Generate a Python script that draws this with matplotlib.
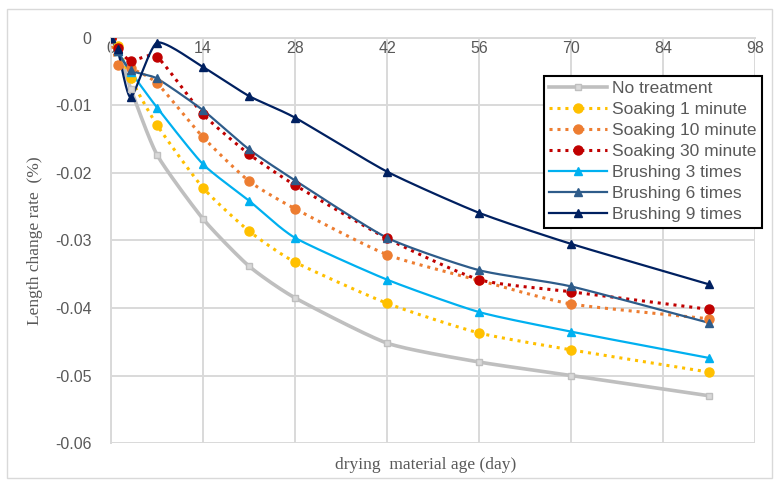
import numpy as np
import matplotlib
matplotlib.use('Agg')
import matplotlib.pyplot as plt
from matplotlib.patches import Rectangle

# drying age (day)
days = [0, 1, 3, 7, 14, 21, 28, 42, 56, 70, 91]

no_treatment = [0, -0.0015, -0.0075, -0.0173, -0.0268, -0.0338, -0.0385, -0.0452, -0.0480, -0.0500, -0.0530]
soak_1 = [0, -0.0012, -0.0060, -0.0129, -0.0222, -0.0286, -0.0332, -0.0393, -0.0437, -0.0462, -0.0495]
soak_10 = [0, -0.0040, -0.0045, -0.0067, -0.0147, -0.0212, -0.0253, -0.0321, -0.0359, -0.0394, -0.0416]
soak_30 = [0, -0.0015, -0.0034, -0.0028, -0.0113, -0.0172, -0.0218, -0.0297, -0.0358, -0.0376, -0.0402]
brush_3 = [0, -0.0020, -0.0050, -0.0103, -0.0187, -0.0241, -0.0296, -0.0358, -0.0406, -0.0435, -0.0474]
brush_6 = [0, -0.0020, -0.0048, -0.0060, -0.0107, -0.0165, -0.0211, -0.0296, -0.0344, -0.0368, -0.0422]
brush_9 = [0, -0.0016, -0.0088, -0.0007, -0.0043, -0.0086, -0.0118, -0.0198, -0.0259, -0.0305, -0.0365]

labels = ['No treatment', 'Soaking 1 minute', 'Soaking 10 minute', 'Soaking 30 minute',
          'Brushing 3 times', 'Brushing 6 times', 'Brushing 9 times']
series = [no_treatment, soak_1, soak_10, soak_30, brush_3, brush_6, brush_9]
colors = ['#BFBFBF', '#FFC000', '#ED7D31', '#C00000', '#00B0F0', '#2E5C8A', '#002060']
markers = ['s', 'o', 'o', 'o', '^', '^', '^']


def smooth(x, y, n=30):
    # excel-like smoothed line (catmull-rom through the points)
    x = np.asarray(x, float)
    y = np.asarray(y, float)
    px = np.concatenate([[2 * x[0] - x[1]], x, [2 * x[-1] - x[-2]]])
    py = np.concatenate([[2 * y[0] - y[1]], y, [2 * y[-1] - y[-2]]])
    xs, ys = [], []
    t = np.linspace(0, 1, n)
    for i in range(1, len(px) - 2):
        p0, p1, p2, p3 = px[i - 1], px[i], px[i + 1], px[i + 2]
        q0, q1, q2, q3 = py[i - 1], py[i], py[i + 1], py[i + 2]
        for a, b, c, d, out in [(p0, p1, p2, p3, xs), (q0, q1, q2, q3, ys)]:
            m1 = (c - a) / 2 * 0.6
            m2 = (d - b) / 2 * 0.6
            out.extend((2 * t**3 - 3 * t**2 + 1) * b + (t**3 - 2 * t**2 + t) * m1
                       + (-2 * t**3 + 3 * t**2) * c + (t**3 - t**2) * m2)
    return xs, ys


fig = plt.figure(figsize=(7.74, 4.82), dpi=100)
fig.patches.append(Rectangle((0.009, 0.008), 0.988, 0.974, transform=fig.transFigure,
                             fill=False, edgecolor='#D9D9D9', lw=1))
ax = fig.add_axes([0.1434, 0.0809, 0.8321, 0.8403])

handles = []
for y, lab, c, m in zip(series, labels, colors, markers):
    xs, ys = smooth(days, y)
    if lab.startswith('Soaking'):
        ls = (0, (1, 1.6))
        lw = 2.2
    elif lab == 'No treatment':
        ls = '-'
        lw = 2.6
    else:
        ls = '-'
        lw = 1.6
    ax.plot(xs, ys, color=c, lw=lw, ls=ls, zorder=3)
    if m == 's':
        ax.plot(days, y, ls='none', marker='s', ms=4.5, mfc='#D9D9D9', mec='#BFBFBF', zorder=4)
        h, = ax.plot([], [], color=c, lw=lw, ls=ls, marker='s', ms=4.5, mfc='#D9D9D9', mec='#BFBFBF')
    else:
        ms = 6.5 if m == 'o' else 6
        ax.plot(days, y, ls='none', marker=m, ms=ms, color=c, zorder=4)
        h, = ax.plot([], [], color=c, lw=lw, ls=ls, marker=m, ms=ms)
    h.set_label(lab)
    handles.append(h)

ax.set_xlim(0, 98)
ax.set_ylim(-0.06, 0)
ax.set_xticks(range(0, 99, 14))
ax.set_yticks([0, -0.01, -0.02, -0.03, -0.04, -0.05, -0.06])
ax.set_yticklabels(['0', '-0.01', '-0.02', '-0.03', '-0.04', '-0.05', '-0.06'])
ax.grid(True, color='#D9D9D9', lw=1.4)
ax.set_axisbelow(True)
ax.spines['bottom'].set_position(('data', 0))
ax.spines['bottom'].set_color('#D9D9D9')
ax.spines['bottom'].set_linewidth(1.4)
ax.spines['top'].set_visible(False)
ax.spines['right'].set_visible(False)
ax.spines['left'].set_color('#D9D9D9')
ax.spines['left'].set_linewidth(1.4)
ax.tick_params(length=0, labelsize=11.5, labelcolor='#595959')
ax.tick_params(axis='y', pad=14)
ax.tick_params(axis='x', pad=2)
for t in ax.get_xticklabels() + ax.get_yticklabels():
    t.set_fontfamily('Liberation Sans')

fig.text(0.045, 0.5, 'Length change rate  (%)', rotation=90, ha='center', va='center',
         fontsize=12.5, color='#595959', family='Liberation Serif')
fig.text(0.55, 0.035, 'drying  material age (day)', ha='center', va='center',
         fontsize=12.5, color='#595959', family='Liberation Serif')

leg = fig.legend(handles=handles, loc='upper left', bbox_to_anchor=(0.703, 0.843),
                 frameon=True, fancybox=False, edgecolor='black', framealpha=1,
                 handlelength=3.3, handletextpad=0.3, labelspacing=0.34,
                 borderpad=0.3, borderaxespad=0,
                 prop={'family': 'Liberation Sans', 'size': 12.5})
leg.get_frame().set_linewidth(1.5)
for t in leg.get_texts():
    t.set_color('#595959')

fig.savefig('out.png', dpi=100)
